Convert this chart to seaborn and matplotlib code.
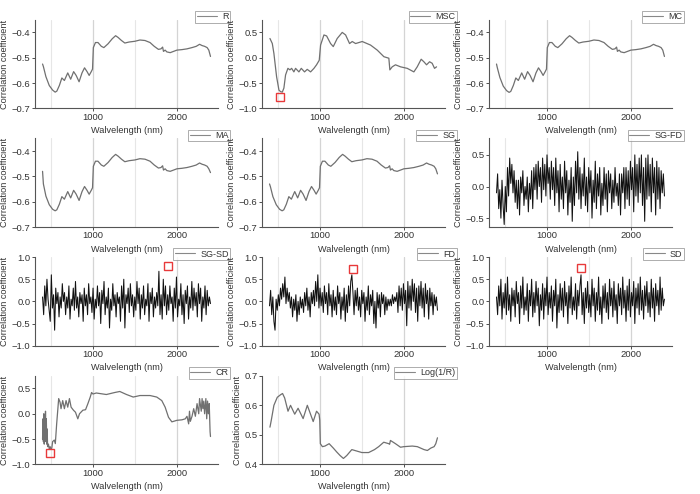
import numpy as np
import matplotlib
matplotlib.use('Agg')
import matplotlib.pyplot as plt
import seaborn as sns
from matplotlib.ticker import MultipleLocator

# smooth spectra (R, MC, MA, SG share the same wavelengths)
WL_R = [400, 410, 440, 480, 520, 550, 570, 600, 630, 660, 700, 735, 770, 800, 835, 870, 900, 930, 955, 980,
        995, 1005, 1030, 1060, 1100, 1130, 1180, 1230, 1270, 1300, 1340, 1380, 1430, 1500, 1560, 1620, 1680, 1730,
        1780, 1810, 1830, 1840, 1860, 1880, 1920, 1960, 2000, 2060, 2120, 2180, 2230, 2270, 2300, 2330, 2360, 2380, 2400]
R = [-0.525, -0.535, -0.575, -0.61, -0.628, -0.636, -0.632, -0.61, -0.58, -0.59, -0.56, -0.585, -0.555, -0.57,
     -0.595, -0.56, -0.54, -0.555, -0.57, -0.555, -0.545, -0.46, -0.44, -0.44, -0.455, -0.46, -0.445, -0.425,
     -0.413, -0.42, -0.432, -0.442, -0.438, -0.435, -0.43, -0.432, -0.44, -0.455, -0.467, -0.465, -0.458, -0.475,
     -0.47, -0.477, -0.48, -0.475, -0.47, -0.468, -0.465, -0.46, -0.455, -0.447, -0.452, -0.455, -0.46, -0.47, -0.495]
MC = [-0.525, -0.54, -0.578, -0.612, -0.63, -0.637, -0.633, -0.61, -0.58, -0.59, -0.56, -0.585, -0.555, -0.57,
      -0.595, -0.56, -0.54, -0.555, -0.57, -0.555, -0.545, -0.46, -0.44, -0.44, -0.455, -0.46, -0.445, -0.425,
      -0.413, -0.42, -0.432, -0.442, -0.438, -0.435, -0.43, -0.432, -0.44, -0.455, -0.467, -0.465, -0.458, -0.475,
      -0.47, -0.477, -0.48, -0.475, -0.47, -0.468, -0.465, -0.46, -0.455, -0.447, -0.452, -0.455, -0.46, -0.47, -0.495]
MA = [-0.48, -0.53, -0.578, -0.612, -0.63, -0.636, -0.632, -0.61, -0.58, -0.59, -0.56, -0.585, -0.555, -0.57,
      -0.595, -0.56, -0.54, -0.555, -0.57, -0.555, -0.545, -0.46, -0.44, -0.44, -0.455, -0.46, -0.445, -0.425,
      -0.413, -0.42, -0.432, -0.442, -0.438, -0.435, -0.43, -0.432, -0.44, -0.455, -0.467, -0.465, -0.458, -0.475,
      -0.47, -0.477, -0.48, -0.475, -0.47, -0.468, -0.465, -0.46, -0.455, -0.447, -0.452, -0.455, -0.46, -0.47, -0.485]
SG = [-0.53, -0.54, -0.58, -0.612, -0.63, -0.636, -0.632, -0.61, -0.58, -0.59, -0.56, -0.585, -0.555, -0.57,
      -0.595, -0.56, -0.54, -0.555, -0.57, -0.555, -0.545, -0.46, -0.44, -0.44, -0.455, -0.46, -0.445, -0.425,
      -0.413, -0.42, -0.432, -0.442, -0.438, -0.435, -0.43, -0.432, -0.44, -0.455, -0.467, -0.465, -0.458, -0.475,
      -0.47, -0.477, -0.48, -0.475, -0.47, -0.468, -0.465, -0.46, -0.455, -0.447, -0.452, -0.455, -0.46, -0.47, -0.49]

WL_MSC = [405, 433, 452, 484, 512, 531, 552, 571, 591, 619, 643, 663, 690, 710, 750, 778, 817, 849, 889, 929,
          960, 992, 1008, 1048, 1080, 1127, 1159, 1206, 1266, 1306, 1353, 1385, 1425, 1504, 1603, 1683, 1762, 1821,
          1833, 1861, 1900, 1960, 2040, 2119, 2159, 2206, 2238, 2270, 2306, 2337, 2365, 2389]
MSC = [0.38, 0.28, 0.085, -0.375, -0.64, -0.67, -0.68, -0.6, -0.34, -0.21, -0.24, -0.21, -0.28, -0.21, -0.28,
       -0.21, -0.28, -0.23, -0.28, -0.21, -0.14, -0.05, 0.25, 0.45, 0.43, 0.28, 0.22, 0.38, 0.5, 0.45, 0.28, 0.32,
       0.28, 0.32, 0.25, 0.15, 0.02, -0.01, -0.24, -0.18, -0.14, -0.18, -0.21, -0.28, -0.18, -0.03, -0.08, -0.14,
       -0.08, -0.11, -0.21, -0.18]

WL_CR = [400, 405, 410, 415, 420, 425, 430, 435, 440, 445, 450, 455, 460, 470, 480, 490, 500, 510, 520, 540,
         552, 568, 592, 608, 620, 640, 660, 680, 700, 720, 740, 768, 792, 820, 840, 880, 912, 940, 968, 984,
         1000, 1040, 1120, 1160, 1260, 1320, 1400, 1480, 1560, 1680, 1760, 1820, 1860, 1900, 1940, 2000, 2060, 2100,
         2120, 2140, 2150, 2160, 2180, 2200, 2220, 2240, 2260, 2270, 2290, 2300, 2310, 2320, 2330, 2345, 2355, 2365,
         2375, 2385, 2395, 2400]
CR = [-0.5, -0.1, -0.55, 0.0, -0.6, -0.2, -0.55, 0.05, -0.5, -0.1, -0.6, -0.3, -0.65, -0.6, -0.7, -0.65, -0.7,
      -0.68, -0.55, -0.52, -0.59, -0.2, 0.3, 0.23, 0.1, 0.26, 0.1, 0.26, 0.13, 0.3, 0.13, 0.07, 0.03, -0.1, 0.0,
      0.07, 0.08, 0.2, 0.33, 0.42, 0.39, 0.41, 0.39, 0.38, 0.42, 0.44, 0.38, 0.33, 0.36, 0.36, 0.33, 0.26, 0.13,
      -0.07, -0.16, -0.13, -0.12, -0.1, -0.05, -0.2, 0.05, -0.15, -0.05, 0.1, -0.05, 0.2, 0.0, 0.3, 0.05, 0.3,
      0.1, 0.25, 0.0, 0.3, -0.1, 0.25, 0.0, 0.2, -0.35, -0.45]

WL_LOG = [405, 420, 452, 492, 532, 555, 580, 620, 650, 700, 740, 800, 850, 920, 960, 990, 998, 1005, 1030, 1060,
          1110, 1160, 1200, 1240, 1280, 1320, 1380, 1440, 1500, 1580, 1650, 1700, 1760, 1820, 1830, 1840, 1900,
          1960, 2000, 2100, 2160, 2240, 2280, 2320, 2360, 2380, 2400]
LOG_R = [0.526, 0.548, 0.6, 0.627, 0.636, 0.64, 0.625, 0.58, 0.6, 0.57, 0.59, 0.555, 0.6, 0.545, 0.58, 0.57,
         0.55, 0.47, 0.46, 0.462, 0.47, 0.455, 0.442, 0.43, 0.42, 0.43, 0.45, 0.445, 0.44, 0.44, 0.45, 0.46, 0.475,
         0.47, 0.468, 0.481, 0.47, 0.458, 0.46, 0.462, 0.46, 0.45, 0.447, 0.455, 0.46, 0.47, 0.49]

# derivative spectra, sampled evenly from 400 to 2400 nm
SG_FD = [-0.1, 0.2, -0.35, -0.05, -0.5, 0.1, -0.3, -0.6, 0.0, -0.4,
         0.3, -0.15, 0.45, 0.05, 0.35, -0.1, 0.25, -0.25, 0.1, -0.35,
         0.1, -0.45, 0.15, -0.1, 0.25, -0.3, 0.0, -0.2, 0.15, -0.4,
         0.05, -0.2, 0.25, -0.35, 0.3, -0.05, 0.35, -0.2, 0.4, 0.0,
         0.3, -0.25, 0.45, -0.05, 0.35, -0.15, 0.5, 0.05, 0.3, -0.2,
         0.4, -0.05, 0.3, -0.3, 0.45, -0.1, 0.25, -0.4, 0.35, -0.2,
         0.15, -0.35, 0.4, -0.1, 0.25, -0.45, 0.1, -0.25, 0.3, -0.55,
         0.15, -0.3, 0.4, -0.1, 0.55, -0.2, 0.3, -0.35, 0.2, -0.15,
         0.45, -0.3, 0.15, -0.4, 0.3, -0.1, 0.25, -0.5, 0.1, -0.25,
         0.4, -0.35, 0.2, -0.15, 0.3, -0.45, 0.05, -0.3, 0.3, -0.2,
         0.2, -0.4, 0.25, -0.1, 0.2, -0.35, 0.1, -0.25, 0.3, -0.15,
         0.05, -0.3, 0.2, -0.45, 0.2, -0.1, 0.3, -0.35, 0.3, -0.2,
         0.25, -0.3, 0.4, -0.05, 0.3, -0.4, 0.5, -0.15, 0.35, -0.25,
         0.45, -0.1, 0.5, -0.3, 0.3, -0.55, 0.45, -0.2, 0.5, -0.15,
         0.35, -0.4, 0.45, -0.1, 0.3, -0.45, 0.4, -0.2, 0.3, -0.35, 0.25, -0.1, 0.2, -0.15]
SG_SD = [0.1, -0.3, 0.35, -0.1, 0.5, 0.05, -0.2, -0.45, 0.6, -0.15,
         0.15, -0.65, 0.3, -0.05, 0.2, -0.35, 0.1, -0.15, 0.4, 0.0,
         0.2, -0.3, 0.1, -0.15, 0.35, -0.4, 0.05, -0.1, 0.3, -0.2,
         0.45, -0.15, 0.1, -0.35, 0.2, -0.05, 0.15, -0.45, 0.3, -0.1,
         0.15, -0.3, 0.4, -0.05, 0.1, -0.25, 0.3, -0.4, 0.05, -0.15,
         0.35, -0.1, 0.2, -0.5, 0.25, -0.05, 0.45, -0.3, 0.1, -0.15,
         0.3, -0.6, 0.05, -0.2, 0.4, -0.1, 0.15, -0.35, 0.2, -0.05,
         0.1, -0.45, 0.35, -0.15, 0.5, -0.6, 0.15, -0.05, 0.3, -0.25,
         0.4, -0.1, 0.15, -0.35, 0.1, -0.2, 0.45, -0.05, 0.3, -0.4,
         0.15, -0.15, 0.35, -0.3, 0.05, -0.1, 0.4, -0.45, 0.2, -0.05,
         0.3, -0.35, 0.1, -0.15, 0.2, -0.1, 0.68, -0.3, 0.15, -0.4,
         0.5, -0.1, 0.35, -0.3, 0.15, -0.2, 0.35, -0.05, 0.1, -0.45,
         0.3, -0.15, 0.55, -0.35, 0.05, -0.1, 0.4, -0.3, 0.15, -0.5,
         0.25, -0.05, 0.35, -0.4, 0.1, -0.15, 0.45, -0.2, 0.3, -0.1,
         0.2, -0.35, 0.4, -0.05, 0.3, -0.45, 0.1, -0.15, 0.35, -0.3, 0.25, -0.1, 0.1, -0.05]
FD = [-0.1, 0.25, -0.3, 0.1, -0.45, -0.65, 0.05, -0.2, 0.15, -0.1,
      0.3, 0.05, 0.4, 0.1, 0.55, -0.05, 0.3, 0.0, 0.2, -0.15,
      0.1, -0.35, 0.05, -0.2, 0.15, -0.45, 0.0, -0.3, 0.1, -0.15,
      0.05, -0.25, 0.2, -0.1, 0.3, -0.2, 0.1, -0.35, 0.2, -0.05,
      0.25, -0.1, 0.45, 0.0, 0.6, -0.15, 0.3, -0.1, 0.2, -0.25,
      0.35, -0.05, 0.2, -0.3, 0.4, -0.1, 0.15, -0.35, 0.25, -0.2,
      0.1, -0.3, 0.35, -0.05, 0.2, -0.4, 0.1, -0.2, 0.3, -0.45,
      0.15, -0.25, 0.35, -0.1, 0.45, 0.6, 0.2, -0.3, 0.25, -0.1,
      0.3, -0.2, 0.1, -0.35, 0.25, -0.05, 0.2, -0.45, 0.1, -0.2,
      0.35, -0.3, 0.15, -0.1, 0.25, -0.5, 0.0, -0.6, 0.2, -0.15,
      0.15, -0.35, 0.2, -0.05, 0.15, -0.3, 0.1, -0.2, 0.05, -0.1,
      0.05, -0.1, 0.15, -0.05, 0.1, 0.0, 0.2, -0.25, 0.35, -0.1,
      0.3, -0.2, 0.4, -0.05, 0.25, -0.55, 0.45, -0.15, 0.35, -0.2,
      0.5, 0.0, 0.4, -0.25, 0.3, -0.45, 0.35, -0.1, 0.45, -0.15,
      0.3, -0.35, 0.4, -0.05, 0.25, -0.4, 0.3, -0.1, 0.2, -0.3, 0.15, -0.1, 0.1, -0.2]
SD = [0.1, -0.3, 0.35, -0.1, 0.5, -0.4, 0.2, -0.15, 0.4, -0.3,
      0.55, -0.2, 0.15, -0.45, 0.3, -0.1, 0.25, -0.35, 0.45, -0.05,
      0.2, -0.5, 0.35, -0.15, 0.55, -0.3, 0.1, -0.2, 0.4, -0.45,
      0.25, -0.1, 0.5, -0.35, 0.2, -0.25, 0.45, -0.1, 0.3, -0.55,
      0.15, -0.2, 0.4, -0.4, 0.3, -0.1, 0.55, -0.3, 0.2, -0.15,
      0.35, -0.45, 0.25, -0.1, 0.5, -0.6, 0.15, -0.25, 0.4, -0.2,
      0.3, -0.35, 0.45, -0.1, 0.2, -0.5, 0.35, -0.15, 0.55, -0.3,
      0.1, -0.2, 0.4, -0.4, 0.25, -0.1, 0.35, 0.6, -0.3, 0.2,
      -0.5, 0.3, -0.15, 0.45, -0.25, 0.15, -0.35, 0.5, -0.1, 0.3,
      -0.45, 0.2, -0.2, 0.55, -0.3, 0.1, -0.5, 0.35, -0.15, 0.4,
      -0.25, 0.2, -0.4, 0.5, -0.1, 0.3, -0.35, 0.45, -0.2, 0.15,
      -0.5, 0.4, -0.1, 0.3, -0.3, 0.55, -0.15, 0.25, -0.45, 0.35,
      -0.2, 0.5, -0.35, 0.2, -0.1, 0.45, -0.5, 0.3, -0.15, 0.4,
      -0.3, 0.55, -0.2, 0.25, -0.4, 0.35, -0.1, 0.45, -0.25, 0.2,
      -0.35, 0.5, -0.15, 0.3, -0.45, 0.4, -0.1, 0.25, -0.3, 0.55, -0.2, 0.3, -0.1, 0.05]

# red boxes marking the extreme bands
MARKS = {'MSC': (524, -0.77), 'SG-SD': (1895, 0.79), 'FD': (1397, 0.73), 'SD': (1405, 0.75), 'CR': (488, -0.77)}


def noisy_wl(vals):
    return np.linspace(400, 2400, len(vals))


# name, x, y, ylim, yticks, noisy?
panels = [
    ('R', WL_R, R, (-0.7, -0.35), [-0.7, -0.6, -0.5, -0.4], False),
    ('MSC', WL_MSC, MSC, (-1.0, 0.75), [-1.0, -0.5, 0.0, 0.5], False),
    ('MC', WL_R, MC, (-0.7, -0.35), [-0.7, -0.6, -0.5, -0.4], False),
    ('MA', WL_R, MA, (-0.7, -0.35), [-0.7, -0.6, -0.5, -0.4], False),
    ('SG', WL_R, SG, (-0.7, -0.35), [-0.7, -0.6, -0.5, -0.4], False),
    ('SG-FD', noisy_wl(SG_FD), SG_FD, (-0.64, 0.76), [-0.5, 0.0, 0.5], True),
    ('SG-SD', noisy_wl(SG_SD), SG_SD, (-1.0, 1.0), [-1.0, -0.5, 0.0, 0.5, 1.0], True),
    ('FD', noisy_wl(FD), FD, (-1.0, 1.0), [-1.0, -0.5, 0.0, 0.5, 1.0], True),
    ('SD', noisy_wl(SD), SD, (-1.0, 1.0), [-1.0, -0.5, 0.0, 0.5, 1.0], True),
    ('CR', WL_CR, CR, (-1.0, 0.75), [-1.0, -0.5, 0.0, 0.5], False),
    ('Log(1/R)', WL_LOG, LOG_R, (0.4, 0.7), [0.4, 0.5, 0.6, 0.7], False),
]

sns.set_style('ticks')
plt.rcParams['font.family'] = ['Liberation Sans', 'DejaVu Sans']
plt.rcParams['text.color'] = '#333333'
plt.rcParams['axes.labelcolor'] = '#333333'

fig, axes = plt.subplots(4, 3, figsize=(7, 4.94), dpi=100)
fig.subplots_adjust(left=0.05, right=0.96, top=0.96, bottom=0.06, wspace=0.24, hspace=0.34)

for ax, (name, x, y, ylim, yticks, noisy) in zip(axes.flat, panels):
    if noisy:
        sns.lineplot(x=x, y=y, ax=ax, color='#111111', linewidth=0.75, label=name, estimator=None, sort=False)
    else:
        sns.lineplot(x=x, y=y, ax=ax, color='#707070', linewidth=0.9, label=name, estimator=None, sort=False)

    if name in MARKS:
        mx, my = MARKS[name]
        ax.plot([mx], [my], marker='s', markersize=6, mfc='none', mec='#e8393a', mew=1.0, ls='none')

    ax.set_xlim(310, 2490)
    ax.set_ylim(*ylim)
    ax.set_yticks(yticks)
    ax.xaxis.set_major_locator(MultipleLocator(1000))
    ax.xaxis.set_minor_locator(MultipleLocator(500))
    ax.grid(True, axis='x', which='major', color='#d4d4d4', linewidth=0.9)
    ax.grid(True, axis='x', which='minor', color='#e6e6e6', linewidth=0.8)
    ax.set_axisbelow(True)
    sns.despine(ax=ax)
    for s in ['left', 'bottom']:
        ax.spines[s].set_color('#555555')
        ax.spines[s].set_linewidth(0.8)
    ax.tick_params(axis='both', labelsize=6.8, colors='#333333', length=2.0, width=0.6, pad=1.2)
    ax.tick_params(axis='x', which='minor', length=0)
    ax.set_xlabel('Walvelength (nm)', fontsize=6.6, labelpad=3)
    ax.set_ylabel('Correlation coefficient', fontsize=6.6, labelpad=2)

    leg = ax.legend(loc='upper right', bbox_to_anchor=(1.065, 1.1), fontsize=6.5, frameon=True, fancybox=False,
                    handlelength=2.2, handletextpad=0.6, borderpad=0.15, borderaxespad=0.0)
    leg.get_frame().set_edgecolor('#888888')
    leg.get_frame().set_linewidth(0.6)
    for h in leg.get_lines():
        h.set_color('#888888')
        h.set_linewidth(0.8)

axes[3, 2].axis('off')

plt.savefig('out.png', dpi=100)
